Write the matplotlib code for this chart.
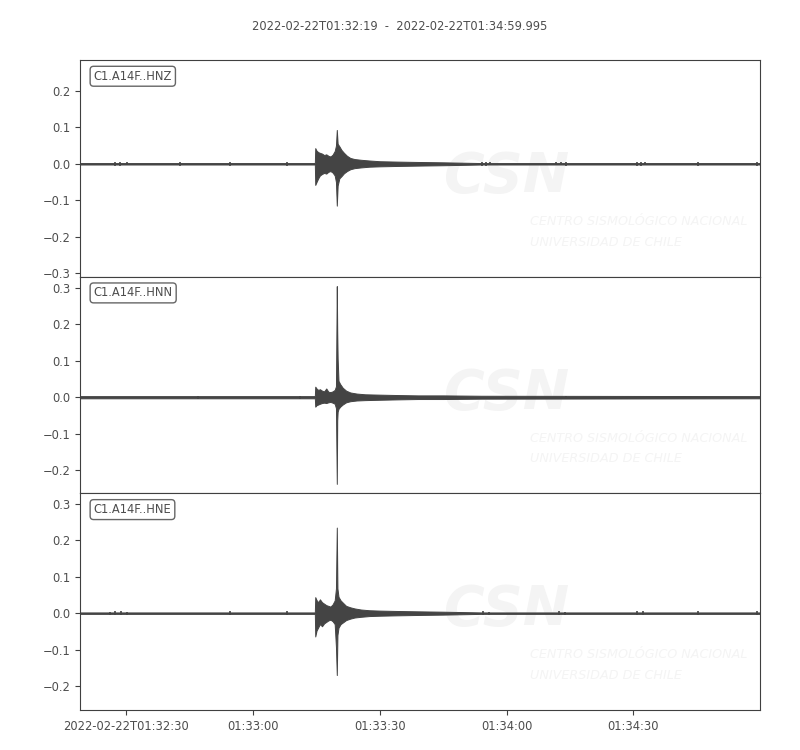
import numpy as np
import matplotlib
matplotlib.use("Agg")
import matplotlib.pyplot as plt
from datetime import datetime, timedelta

# --- data (seconds after start, amplitude envelope) ---
start = datetime(2022, 2, 22, 1, 32, 19)
end = datetime(2022, 2, 22, 1, 34, 59, 995000)
title = "2022-02-22T01:32:19  -  2022-02-22T01:34:59.995"
channels = ["C1.A14F..HNZ", "C1.A14F..HNN", "C1.A14F..HNE"]
ylims = [(-0.31, 0.285), (-0.264, 0.331), (-0.266, 0.329)]

tick_times = ["2022-02-22T01:32:30", "2022-02-22T01:33:00", "2022-02-22T01:33:30",
              "2022-02-22T01:34:00", "2022-02-22T01:34:30"]
tick_labels = ["2022-02-22T01:32:30", "01:33:00", "01:33:30", "01:34:00", "01:34:30"]

hnz_t = [0, 55.6, 55.7, 56.0, 56.4, 56.8, 57.3, 57.8, 58.3, 58.8, 59.3, 59.8,
         60.3, 60.6, 60.8, 61.0, 61.4, 61.9, 62.5, 63.2, 64.0, 65.0, 66.5,
         68.5, 71.0, 75.0, 80.0, 86.0, 95.0, 161.0]
hnz_up = [0.002, 0.002, 0.043, 0.036, 0.032, 0.030, 0.028, 0.024, 0.026, 0.022,
          0.020, 0.025, 0.035, 0.050, 0.093, 0.055, 0.048, 0.038, 0.030, 0.022,
          0.016, 0.013, 0.011, 0.009, 0.007, 0.006, 0.005, 0.004, 0.002, 0.002]
hnz_lo = [-0.002, -0.002, -0.058, -0.050, -0.040, -0.032, -0.028, -0.025, -0.027,
          -0.022, -0.020, -0.024, -0.032, -0.050, -0.115, -0.060, -0.040, -0.034,
          -0.026, -0.020, -0.015, -0.012, -0.010, -0.008, -0.007, -0.006, -0.005,
          -0.004, -0.002, -0.002]

hnn_t = [0, 55.6, 55.7, 56.0, 56.4, 56.8, 57.3, 57.8, 58.3, 58.8, 59.3, 59.8,
         60.3, 60.6, 60.8, 60.9, 61.0, 61.2, 61.6, 62.2, 63.0, 64.0, 65.5,
         67.5, 71.0, 75.0, 80.0, 86.0, 95.0, 161.0]
hnn_up = [0.003, 0.003, 0.029, 0.024, 0.020, 0.022, 0.018, 0.016, 0.024, 0.015,
          0.014, 0.016, 0.020, 0.030, 0.305, 0.180, 0.106, 0.045, 0.036, 0.026,
          0.018, 0.013, 0.010, 0.008, 0.007, 0.006, 0.005, 0.005, 0.004, 0.003]
hnn_lo = [-0.003, -0.003, -0.026, -0.022, -0.020, -0.018, -0.016, -0.015, -0.016,
          -0.014, -0.013, -0.015, -0.018, -0.030, -0.238, -0.064, -0.040, -0.032,
          -0.026, -0.020, -0.014, -0.011, -0.009, -0.008, -0.007, -0.006, -0.005,
          -0.005, -0.004, -0.003]

hne_t = [0, 55.6, 55.7, 56.0, 56.4, 56.8, 57.3, 57.8, 58.3, 58.8, 59.3, 59.8,
         60.3, 60.6, 60.8, 60.95, 61.2, 61.7, 62.3, 63.0, 64.0, 65.0, 66.5,
         68.5, 71.0, 75.0, 80.0, 86.0, 95.0, 161.0]
hne_up = [0.002, 0.002, 0.044, 0.036, 0.030, 0.038, 0.030, 0.026, 0.022, 0.020,
          0.018, 0.024, 0.035, 0.068, 0.235, 0.068, 0.045, 0.035, 0.028, 0.020,
          0.016, 0.013, 0.010, 0.008, 0.007, 0.006, 0.005, 0.004, 0.002, 0.002]
hne_lo = [-0.002, -0.002, -0.064, -0.048, -0.039, -0.030, -0.036, -0.028, -0.024,
          -0.020, -0.018, -0.022, -0.030, -0.093, -0.170, -0.060, -0.040, -0.030,
          -0.025, -0.019, -0.015, -0.012, -0.010, -0.008, -0.007, -0.006, -0.005,
          -0.004, -0.002, -0.002]

# small glitches on the baseline (time s, half amplitude)
hnz_glitch_t = [8.3, 9.5, 11.1, 23.7, 35.5, 49.0, 95.2, 96.2, 97.1, 112.7,
                113.9, 115.1, 131.9, 132.9, 133.8, 146.4, 160.4]
hnz_glitch_a = [0.006, 0.006, 0.004, 0.006, 0.005, 0.006, 0.006, 0.006, 0.004,
                0.004, 0.004, 0.005, 0.006, 0.006, 0.004, 0.005, 0.006]
hnn_glitch_t = [28.0, 52.0, 115.0]
hnn_glitch_a = [0.004, 0.004, 0.004]
hne_glitch_t = [7.0, 8.4, 9.8, 11.2, 35.5, 49.0, 95.4, 96.8, 113.5, 114.9,
                131.9, 133.3, 146.4, 160.4]
hne_glitch_a = [0.004, 0.006, 0.005, 0.004, 0.006, 0.005, 0.005, 0.004, 0.005,
                0.004, 0.006, 0.005, 0.005, 0.006]

env_ts = [hnz_t, hnn_t, hne_t]
uppers = [hnz_up, hnn_up, hne_up]
lowers = [hnz_lo, hnn_lo, hne_lo]
glitch_ts = [hnz_glitch_t, hnn_glitch_t, hne_glitch_t]
glitch_as = [hnz_glitch_a, hnn_glitch_a, hne_glitch_a]

trace_color = "#444444"
text_color = "#4d4d4d"
wm_color = "#f4f4f4"

fig = plt.figure(figsize=(8, 7.5), dpi=100)
fig.suptitle(title, y=0.973, fontsize=8.3, color=text_color)

left, width = 0.1, 0.85
bottom0, height = 0.0533, 0.2889

for i, ch in enumerate(channels):
    ax = fig.add_axes([left, bottom0 + (2 - i) * height, width, height])

    # faint CSN watermark
    ax.text(0.628, 0.46, "CSN", transform=ax.transAxes, ha="center", va="center",
            fontsize=40, fontstyle="italic", fontweight="bold", color=wm_color,
            zorder=0)
    ax.text(0.662, 0.255, "CENTRO SISMOLÓGICO NACIONAL", transform=ax.transAxes,
            ha="left", va="center", fontsize=9.2, fontstyle="italic",
            color=wm_color, zorder=0)
    ax.text(0.662, 0.16, "UNIVERSIDAD DE CHILE", transform=ax.transAxes,
            ha="left", va="center", fontsize=9.2, fontstyle="italic",
            color=wm_color, zorder=0)

    times = [start + timedelta(seconds=s) for s in env_ts[i]]
    ax.fill_between(times, lowers[i], uppers[i], color=trace_color,
                    linewidth=0.7, zorder=2)
    gt = [start + timedelta(seconds=s) for s in glitch_ts[i]]
    ga = np.array(glitch_as[i])
    ax.vlines(gt, -ga, ga, color=trace_color, linewidth=1.2, zorder=2)

    ax.set_xlim(start, end)
    ax.set_ylim(*ylims[i])

    ax.text(0.02, 0.955, ch, transform=ax.transAxes, ha="left", va="top",
            fontsize=8.3, color=text_color, zorder=5,
            bbox=dict(boxstyle="round,pad=0.3", fc="white", ec="#666666", lw=1))

    for sp in ax.spines.values():
        sp.set_color("#404040")
    ax.tick_params(axis="y", labelsize=8.3, colors="#404040", labelcolor=text_color)

    if i < 2:
        ax.tick_params(axis="x", bottom=False, labelbottom=False)
    else:
        ticks = [datetime.strptime(s, "%Y-%m-%dT%H:%M:%S") for s in tick_times]
        ax.set_xticks(ticks)
        ax.set_xticklabels(tick_labels)
        ax.tick_params(axis="x", labelsize=8.3, colors="#404040", labelcolor=text_color)

fig.savefig("out.png", dpi=100)
